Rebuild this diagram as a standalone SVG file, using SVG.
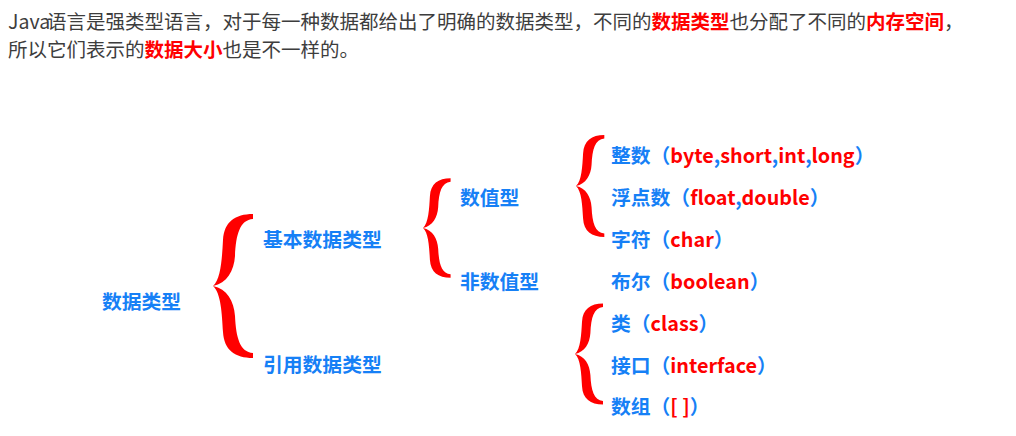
<svg xmlns="http://www.w3.org/2000/svg" width="1016" height="436" viewBox="0 0 1016 436">
<style>
text { font-family: "Noto Sans CJK SC", "Microsoft YaHei", sans-serif; }
.p { font-size: 19.5px; fill: #3d3d3d; }
.em { fill: #ff0000; font-weight: bold; }
.n { font-size: 19.8px; font-weight: bold; fill: #1680f6; }
.r { fill: #ff0000; }
.brace { fill: #ff0000; }
</style>
<defs>
<path id="brace" class="brace" d="M 40,-72 C 22,-72 11,-64 10,-46 C 9,-28 8,-7 0,0 C 14,-3 21,-15 22,-30 C 23,-52 27,-66 40,-67 Z M 40,72 C 22,72 11,64 10,46 C 9,28 8,7 0,0 C 14,3 21,15 22,30 C 23,52 27,66 40,67 Z"/>
</defs>
<rect width="1016" height="436" fill="#ffffff"/>
<g id="intro">
<text class="p" y="29"><tspan x="8">Java</tspan><tspan x="47">语言是强类型语言，对于每一种数据都给出了明确的数据类型，不同的</tspan><tspan class="em">数据类型</tspan><tspan>也分配了不同的</tspan><tspan class="em">内存空间</tspan><tspan>，</tspan></text>
<text class="p" x="8" y="56.5">所以它们表示的<tspan class="em">数据大小</tspan>也是不一样的。</text>
</g>
<g id="connectors">
<use href="#brace" transform="translate(213,286)"/>
<use href="#brace" transform="translate(423,228) scale(0.69)"/>
<use href="#brace" transform="translate(576,186) scale(0.708)"/>
<use href="#brace" transform="translate(575,354) scale(0.70)"/>
</g>
<g id="n-root"><text class="n" x="102" y="309">数据类型</text></g>
<g id="n-basic"><text class="n" x="263" y="247">基本数据类型</text></g>
<g id="n-reference"><text class="n" x="263" y="372">引用数据类型</text></g>
<g id="n-numeric"><text class="n" x="460" y="205">数值型</text></g>
<g id="n-nonnumeric"><text class="n" x="460" y="288.5">非数值型</text></g>
<g id="n-integer"><text class="n" x="611" y="162.5">整数（<tspan class="r">byte</tspan>,<tspan class="r">short</tspan>,<tspan class="r">int</tspan>,<tspan class="r">long</tspan>）</text></g>
<g id="n-float"><text class="n" x="611" y="204.5">浮点数（<tspan class="r">float</tspan>,<tspan class="r">double</tspan>）</text></g>
<g id="n-char"><text class="n" x="611" y="246.5">字符（<tspan class="r">char</tspan>）</text></g>
<g id="n-boolean"><text class="n" x="611" y="288.5">布尔（<tspan class="r">boolean</tspan>）</text></g>
<g id="n-class"><text class="n" x="611" y="330.5">类（<tspan class="r">class</tspan>）</text></g>
<g id="n-interface"><text class="n" x="611" y="372.5">接口（<tspan class="r">interface</tspan>）</text></g>
<g id="n-array"><text class="n" x="611" y="414">数组（<tspan class="r">[ ]</tspan>）</text></g>
</svg>
